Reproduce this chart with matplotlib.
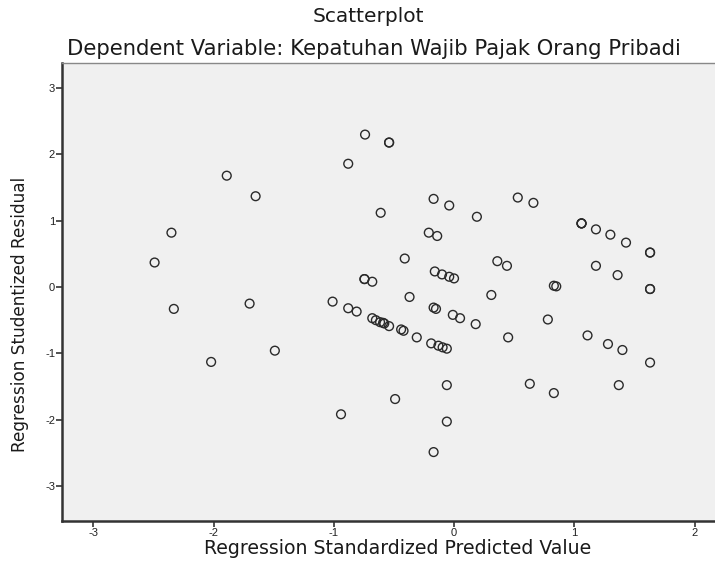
import matplotlib
matplotlib.use("Agg")
import matplotlib.pyplot as plt

# Regression standardized predicted value (x) and studentized residual (y)
pred = [-2.49, -2.35, -2.33, -2.02, -1.89, -1.70, -1.65, -1.49, -1.01, -0.94,
        -0.88, -0.88, -0.81, -0.74, -0.745, -0.745, -0.68, -0.68, -0.65, -0.615,
        -0.59, -0.58, -0.54, -0.61, -0.54, -0.54, -0.49, -0.44, -0.42, -0.41,
        -0.37, -0.31, -0.21, -0.19, -0.17, -0.17, -0.15, -0.17, -0.16, -0.14,
        -0.13, -0.10, -0.095, -0.06, -0.06, -0.06, -0.04, -0.04, 0.00, -0.01,
        0.05, 0.18, 0.19, 0.31, 0.36, 0.44, 0.45, 0.53, 0.63, 0.66,
        0.78, 0.83, 0.85, 0.83, 1.06, 1.06, 1.06, 1.11, 1.18, 1.18,
        1.28, 1.30, 1.36, 1.37, 1.40, 1.43, 1.63, 1.63, 1.63, 1.63, 1.63]
resid = [0.37, 0.82, -0.33, -1.13, 1.68, -0.25, 1.37, -0.96, -0.22, -1.92,
         1.86, -0.32, -0.37, 2.30, 0.12, 0.12, 0.08, -0.47, -0.50, -0.53,
         -0.54, -0.55, -0.59, 1.12, 2.18, 2.18, -1.69, -0.64, -0.66, 0.43,
         -0.15, -0.76, 0.82, -0.85, 1.33, -0.31, -0.33, -2.49, 0.235, 0.77,
         -0.885, 0.19, -0.91, -0.93, -1.48, -2.03, 1.23, 0.155, 0.13, -0.42,
         -0.47, -0.56, 1.06, -0.12, 0.39, 0.32, -0.76, 1.35, -1.46, 1.27,
         -0.49, 0.02, 0.01, -1.60, 0.96, 0.96, 0.96, -0.73, 0.87, 0.32,
         -0.86, 0.79, 0.18, -1.48, -0.95, 0.67, 0.52, 0.52, -0.03, -0.03, -1.14]

xticks = [-3, -2, -1, 0, 1, 2]
yticks = [-3, -2, -1, 0, 1, 2, 3]

title = "Scatterplot"
subtitle = "Dependent Variable: Kepatuhan Wajib Pajak Orang Pribadi"
xlabel = "Regression Standardized Predicted Value"
ylabel = "Regression Studentized Residual"

fig = plt.figure(figsize=(7.15, 5.67), dpi=100)
fig.patch.set_facecolor("white")
ax = fig.add_axes([62/715, 1 - 521/567, 653/715, 458/567])
ax.set_facecolor("#f0f0f0")

ax.scatter(pred, resid, s=40, facecolors="none", edgecolors="#2a2a2a",
           linewidths=1.0, zorder=3)

ax.set_xlim(-3.26, 2.17)
ax.set_ylim(-3.53, 3.38)
ax.set_xticks(xticks)
ax.set_yticks(yticks)
ax.set_xticklabels([str(t) for t in xticks], fontfamily="Liberation Sans", fontsize=8, color="#222222")
ax.set_yticklabels([str(t) for t in yticks], fontfamily="Liberation Sans", fontsize=8, color="#222222")
ax.tick_params(axis="x", direction="out", length=4, width=1.2, color="#333333", pad=1)
ax.tick_params(axis="y", direction="out", length=4, width=1.2, color="#333333", pad=1)

for side in ["left", "bottom"]:
    ax.spines[side].set_color("#333333")
    ax.spines[side].set_linewidth(1.8)
ax.spines["top"].set_color("#888888")
ax.spines["top"].set_linewidth(1.0)
ax.spines["right"].set_visible(False)

tfont = dict(family="DejaVu Sans")
fig.text(368/715, 1 - 17/567, title, ha="center", va="center", fontsize=14.5, color="#1a1a1a", **tfont)
fig.text(374/715, 1 - 49/567, subtitle, ha="center", va="center", fontsize=15.2, color="#1a1a1a", **tfont)
fig.text(398/715, 1 - 549/567, xlabel, ha="center", va="center", fontsize=13.6, color="#1a1a1a", **tfont)
fig.text(20/715, 1 - 314/567, ylabel, ha="center", va="center", rotation=90, fontsize=12.2, color="#1a1a1a", **tfont)

fig.savefig("out.png", dpi=100)
